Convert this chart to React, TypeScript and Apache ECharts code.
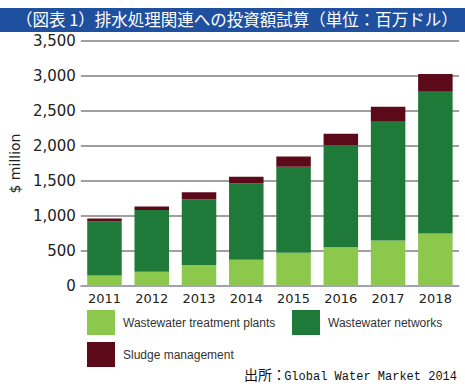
import React, { useEffect, useRef } from "react";
import * as echarts from "echarts";

const titleText = "（図表 1）排水処理関連への投資額試算（単位：百万ドル）";
const years = ["2011", "2012", "2013", "2014", "2015", "2016", "2017", "2018"];
const seriesNames = ["Wastewater treatment plants", "Wastewater networks", "Sludge management"];
const plants = [150, 205, 300, 375, 475, 555, 650, 750];
const networks = [770, 880, 940, 1090, 1230, 1455, 1695, 2025];
const sludge = [45, 50, 100, 95, 145, 165, 215, 255];
const colors = ["#8cc84b", "#1f7a3a", "#5c0a1a"];
const sourceCJK = "出所：";
const sourceLatin = "Global Water Market 2014";

export default function App() {
  const ref = useRef<HTMLDivElement>(null);
  useEffect(() => {
    if (!ref.current) return;
    const chart = echarts.init(ref.current, null, { renderer: "svg" });
    const data = [plants, networks, sludge];
    const legendPos = [
      { left: 87, top: 310 },
      { left: 292, top: 310 },
      { left: 87, top: 342 },
    ];
    chart.setOption({
      animation: false,
      backgroundColor: "#ffffff",
      textStyle: { fontFamily: "DejaVu Sans, sans-serif" },
      grid: { left: 77, right: 6, top: 41, bottom: 104, containLabel: false },
      xAxis: {
        type: "category",
        data: years,
        axisLine: { lineStyle: { color: "#a0a0c0", width: 1.5 } },
        axisTick: { show: false },
        axisLabel: { color: "#222", fontSize: 13, margin: 6, fontFamily: "DejaVu Sans" },
      },
      yAxis: {
        type: "value",
        min: 0,
        max: 3500,
        interval: 500,
        name: "$ million",
        nameLocation: "middle",
        nameGap: 58,
        nameTextStyle: { color: "#222", fontSize: 14, fontFamily: "DejaVu Sans" },
        axisLine: { show: false },
        axisTick: { show: false },
        axisLabel: {
          color: "#222",
          fontSize: 15,
          margin: 5,
          fontFamily: "DejaVu Sans",
          formatter: (v: number) => v.toLocaleString("en-US"),
        },
        splitLine: { lineStyle: { color: "#808080", width: 1.5 } },
      },
      legend: seriesNames.map((n, i) => ({
        data: [n],
        left: legendPos[i].left,
        top: legendPos[i].top,
        itemWidth: 28,
        itemHeight: 25,
        itemGap: 0,
        padding: 0,
        icon: "rect",
        textStyle: {
          color: "#333",
          fontSize: 12,
          fontFamily: "Liberation Sans",
          padding: [0, 0, 0, 3],
        },
      })),
      series: seriesNames.map((n, i) => ({
        name: n,
        type: "bar",
        stack: "total",
        data: data[i],
        barCategoryGap: "27%",
        itemStyle: { color: colors[i] },
      })),
      graphic: [
        {
          type: "rect",
          left: 0,
          top: 8,
          shape: { width: 465, height: 24 },
          style: { fill: "#1f4f9f" },
        },
        {
          type: "text",
          left: 16,
          top: 11,
          style: {
            text: titleText,
            fill: "#ffffff",
            fontSize: 16.5,
            fontFamily: "Noto Sans CJK JP",
          },
        },
        {
          type: "text",
          x: 244,
          y: 374,
          style: {
            text: sourceCJK,
            fill: "#111",
            fontSize: 14,
            fontFamily: "Noto Sans CJK JP",
            align: "left",
            verticalAlign: "middle",
          },
        },
        {
          type: "text",
          x: 457,
          y: 377,
          style: {
            text: sourceLatin,
            fill: "#111",
            fontSize: 12,
            fontFamily: "Liberation Mono",
            align: "right",
            verticalAlign: "middle",
          },
        },
      ],
    });
    return () => chart.dispose();
  }, []);
  return (
    <div
      ref={ref}
      style={{ position: "fixed", left: 0, top: 0, width: 465, height: 390 }}
    />
  );
}
